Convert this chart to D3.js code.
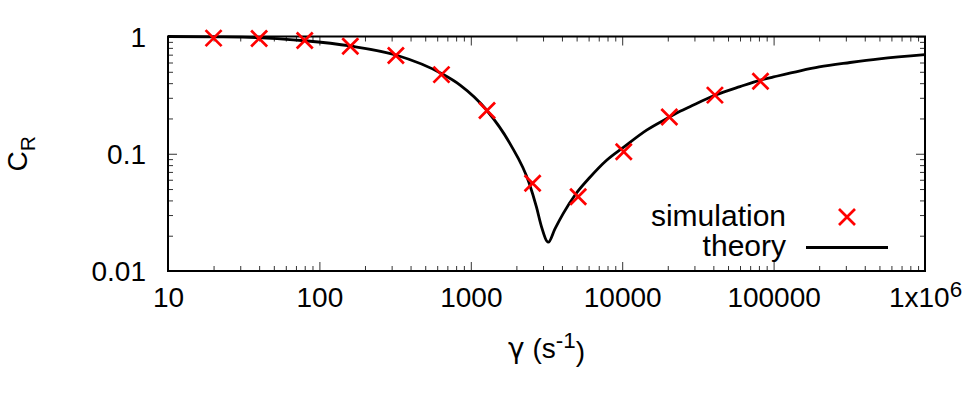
<!DOCTYPE html>
<html>
<head>
<meta charset="utf-8">
<script src="https://cdn.jsdelivr.net/npm/d3@7"></script>
<style>
  body { margin: 0; background: #fff; }
  text { font-family: "Liberation Sans", Arial, sans-serif; fill: #000; }
</style>
</head>
<body>
<script>
// simulation points (gamma in s^-1, C_R)
var simGamma = [20, 40, 80, 160, 320, 640, 1280, 2560, 5120, 10240, 20480, 40960, 81920];
var simC = [0.968, 0.962, 0.924, 0.826, 0.688, 0.473, 0.234, 0.056, 0.043, 0.104, 0.206, 0.316, 0.415];

// theory curve
var theoryGamma = [10, 20, 40, 55, 80, 160, 320, 640, 850, 1274, 1815, 2432, 2716, 2936, 3248,
  3596, 4083, 4880, 6126, 7890, 10240, 14500, 20480, 24100, 28000, 40960, 60000, 81920, 100000,
  150000, 200000, 320000, 500000, 1000000];
var theoryC = [1.0, 0.993, 0.978, 0.955, 0.92, 0.83, 0.695, 0.483, 0.385, 0.235, 0.122, 0.056, 0.035, 0.0237, 0.0176,
  0.0229, 0.031, 0.0445, 0.063, 0.088, 0.114, 0.159, 0.205, 0.23, 0.252, 0.315, 0.374, 0.425, 0.452,
  0.51, 0.55, 0.60, 0.645, 0.70];

var xTickValues = [10, 100, 1000, 10000, 100000, 1000000];
var xTickLabels = ["10", "100", "1000", "10000", "100000", "1x10^6"];
var yTickValues = [0.01, 0.1, 1];
var yTickLabels = ["0.01", "0.1", "1"];
var seriesNames = ["simulation", "theory"];

var margin = {top: 36.5, right: 54, bottom: 129, left: 168};
var width = 979 - margin.left - margin.right;
var height = 400 - margin.top - margin.bottom;
var fontSize = 28;

function minorTicks(lo, hi) {
  var out = [];
  for (var p = lo; p < hi; p++) {
    for (var k = 2; k <= 9; k++) out.push(k * Math.pow(10, p));
  }
  return out;
}

var x = d3.scaleLog().domain([10, 1e6]).range([0, width]);
var y = d3.scaleLog().domain([0.01, 1]).range([height, 0]);

var svg = d3.select("body").append("svg")
  .attr("width", 979)
  .attr("height", 400);

var g = svg.append("g")
  .attr("transform", "translate(" + margin.left + "," + margin.top + ")");

// ticks, all pointing inwards (gnuplot style, mirrored)
function styleAxis(sel) {
  sel.select(".domain").remove();
  sel.selectAll(".tick line").attr("stroke", "#333").attr("stroke-width", 1);
  sel.attr("font-size", fontSize).attr("font-family", null);
}

var xMajor = d3.axisBottom(x).tickValues(xTickValues).tickSize(-9).tickSizeOuter(0).tickPadding(16)
  .tickFormat(function(d, i) { return xTickLabels[i]; });
var xMinor = d3.axisBottom(x).tickValues(minorTicks(1, 6)).tickSize(-5).tickFormat("");
var xMajorTop = d3.axisTop(x).tickValues(xTickValues).tickSize(-9).tickFormat("");
var xMinorTop = d3.axisTop(x).tickValues(minorTicks(1, 6)).tickSize(-5).tickFormat("");

var yMajor = d3.axisLeft(y).tickValues(yTickValues).tickSize(-9).tickSizeOuter(0).tickPadding(22)
  .tickFormat(function(d, i) { return yTickLabels[i]; });
var yMinor = d3.axisLeft(y).tickValues(minorTicks(-2, 0)).tickSize(-5).tickFormat("");
var yMajorRight = d3.axisRight(y).tickValues(yTickValues).tickSize(-9).tickFormat("");
var yMinorRight = d3.axisRight(y).tickValues(minorTicks(-2, 0)).tickSize(-5).tickFormat("");

var gx = g.append("g").attr("transform", "translate(0," + height + ")").call(xMajor).call(styleAxis);
g.append("g").attr("transform", "translate(0," + height + ")").call(xMinor).call(styleAxis);
g.append("g").call(xMajorTop).call(styleAxis);
g.append("g").call(xMinorTop).call(styleAxis);
var gy = g.append("g").call(yMajor).call(styleAxis);
g.append("g").call(yMinor).call(styleAxis);
g.append("g").attr("transform", "translate(" + width + ",0)").call(yMajorRight).call(styleAxis);
g.append("g").attr("transform", "translate(" + width + ",0)").call(yMinorRight).call(styleAxis);

gx.selectAll(".tick text").attr("fill", "#000");
gy.selectAll(".tick text").attr("fill", "#000").attr("dy", "0.35em");

// 1x10^6 with a superscript
gx.selectAll(".tick text").filter(function(d) { return d === 1e6; })
  .text(null)
  .call(function(t) {
    var parts = xTickLabels[xTickLabels.length - 1].split("^");
    t.append("tspan").text(parts[0]);
    t.append("tspan").attr("dy", "-0.45em").attr("font-size", fontSize * 0.8).text(parts[1]);
  });

// border
g.append("rect")
  .attr("width", width)
  .attr("height", height)
  .attr("fill", "none")
  .attr("stroke", "#000")
  .attr("stroke-width", 2);

// theory line
var theory = theoryGamma.map(function(d, i) { return {g: d, c: theoryC[i]}; });
var line = d3.line()
  .x(function(d) { return x(d.g); })
  .y(function(d) { return y(d.c); })
  .curve(d3.curveMonotoneX);

g.append("path")
  .datum(theory)
  .attr("fill", "none")
  .attr("stroke", "#000")
  .attr("stroke-width", 2.8)
  .attr("stroke-linejoin", "round")
  .attr("d", line);

// simulation crosses
var cross = "M-8,-8L8,8M-8,8L8,-8";
g.selectAll(".sim")
  .data(simGamma.map(function(d, i) { return {g: d, c: simC[i]}; }))
  .enter().append("path")
  .attr("class", "sim")
  .attr("transform", function(d) { return "translate(" + x(d.g) + "," + y(d.c) + ")"; })
  .attr("d", cross)
  .attr("fill", "none")
  .attr("stroke", "#ff0000")
  .attr("stroke-width", 2.7);

// legend
var legend = svg.append("g").attr("font-size", 30);
legend.append("text").attr("x", 786).attr("y", 226).attr("text-anchor", "end").text(seriesNames[0]);
legend.append("path").attr("transform", "translate(847,217)").attr("d", cross)
  .attr("fill", "none").attr("stroke", "#ff0000").attr("stroke-width", 2.7);
legend.append("text").attr("x", 786).attr("y", 256).attr("text-anchor", "end").text(seriesNames[1]);
legend.append("line").attr("x1", 806).attr("x2", 888).attr("y1", 247.5).attr("y2", 247.5)
  .attr("stroke", "#000").attr("stroke-width", 2.8);

// axis titles
var xt = svg.append("text")
  .attr("x", margin.left + width / 2)
  .attr("y", 358)
  .attr("text-anchor", "middle")
  .attr("font-size", fontSize);
xt.append("tspan").attr("font-family", "'DejaVu Sans', sans-serif").text("γ");
xt.append("tspan").text(" (s");
xt.append("tspan").attr("dy", "-0.45em").attr("font-size", fontSize * 0.8).text("-1");
xt.append("tspan").attr("dy", "0.45em").text(")");

var yt = svg.append("text")
  .attr("transform", "translate(27," + (margin.top + height / 2) + ") rotate(-90)")
  .attr("text-anchor", "middle")
  .attr("font-size", fontSize);
yt.append("tspan").text("C");
yt.append("tspan").attr("dy", "0.4em").attr("font-size", fontSize * 0.75).text("R");
</script>
</body>
</html>
